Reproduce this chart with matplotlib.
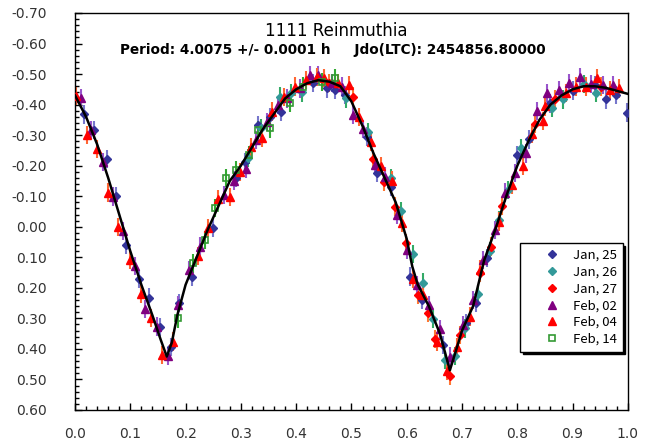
import matplotlib
matplotlib.use("Agg")
import matplotlib.pyplot as plt
from matplotlib.ticker import MultipleLocator, FormatStrFormatter

plt.rcParams['font.family'] = ['DejaVu Sans']
plt.rcParams['axes.unicode_minus'] = False

title = "1111 Reinmuthia"
subtitle = "Period: 4.0075 +/- 0.0001 h     Jdo(LTC): 2454856.80000"

# Fit curve (phase, reduced magnitude)
fit_phase = [0.00, 0.02, 0.04, 0.06, 0.08, 0.10, 0.12, 0.14, 0.155, 0.166, 0.175, 0.185,
             0.20, 0.22, 0.24, 0.26, 0.28, 0.30, 0.32, 0.34, 0.36, 0.38, 0.40, 0.42,
             0.44, 0.46, 0.48, 0.50, 0.52, 0.54, 0.56, 0.58, 0.60, 0.61, 0.62, 0.64,
             0.66, 0.678, 0.69, 0.70, 0.72, 0.74, 0.76, 0.78, 0.80, 0.82, 0.84, 0.86,
             0.88, 0.90, 0.92, 0.94, 0.96, 0.98, 1.00]
fit_mag = [-0.43, -0.36, -0.27, -0.16, -0.04, 0.08, 0.19, 0.29, 0.37, 0.425, 0.38, 0.29,
           0.19, 0.10, 0.01, -0.07, -0.15, -0.20, -0.26, -0.32, -0.37, -0.42, -0.45, -0.47,
           -0.48, -0.475, -0.46, -0.41, -0.33, -0.24, -0.16, -0.08, 0.04, 0.13, 0.19, 0.26,
           0.35, 0.47, 0.40, 0.34, 0.26, 0.11, 0.01, -0.10, -0.20, -0.28, -0.35, -0.40,
           -0.43, -0.45, -0.46, -0.46, -0.455, -0.445, -0.435]

jan25_phase = [0.017, 0.035, 0.057, 0.075, 0.093, 0.116, 0.134, 0.154, 0.174, 0.188, 0.211,
               0.250, 0.292, 0.307, 0.331, 0.353, 0.373, 0.431, 0.455, 0.470, 0.488, 0.529,
               0.547, 0.571, 0.606, 0.627, 0.665, 0.708, 0.725, 0.746, 0.800, 0.822, 0.859,
               0.901, 0.940, 0.960, 0.979, 0.998]
jan25_mag = [-0.368, -0.317, -0.222, -0.100, 0.060, 0.172, 0.232, 0.329, 0.393, 0.249, 0.163,
             0.005, -0.159, -0.213, -0.333, -0.358, -0.377, -0.470, -0.453, -0.448, -0.431, -0.295,
             -0.177, -0.131, 0.163, 0.240, 0.387, 0.316, 0.250, 0.103, -0.235, -0.286, -0.404,
             -0.446, -0.464, -0.417, -0.431, -0.374]

jan26_phase = [0.312, 0.336, 0.371, 0.390, 0.410, 0.491, 0.530, 0.571, 0.590, 0.611, 0.629,
               0.648, 0.669, 0.687, 0.705, 0.728, 0.750, 0.766, 0.784, 0.806, 0.862, 0.883,
               0.920, 0.942]
jan26_mag = [-0.224, -0.322, -0.426, -0.437, -0.440, -0.420, -0.311, -0.159, -0.050, 0.089, 0.183,
             0.303, 0.436, 0.423, 0.333, 0.220, 0.080, -0.022, -0.120, -0.257, -0.388, -0.417,
             -0.467, -0.437]

jan27_phase = [0.460, 0.503, 0.539, 0.559, 0.579, 0.598, 0.621, 0.639, 0.651, 0.678, 0.696,
               0.732, 0.753, 0.773, 0.832, 0.868, 0.952]
jan27_mag = [-0.470, -0.426, -0.221, -0.148, -0.066, 0.054, 0.223, 0.281, 0.368, 0.489, 0.354,
             0.152, 0.065, -0.068, -0.337, -0.417, -0.459]

feb02_phase = [0.011, 0.029, 0.050, 0.069, 0.087, 0.108, 0.127, 0.148, 0.168, 0.186, 0.206,
               0.226, 0.270, 0.288, 0.309, 0.328, 0.347, 0.367, 0.383, 0.407, 0.425, 0.440,
               0.464, 0.482, 0.503, 0.521, 0.542, 0.561, 0.582, 0.601, 0.619, 0.641, 0.660,
               0.678, 0.701, 0.719, 0.738, 0.760, 0.778, 0.796, 0.816, 0.836, 0.854, 0.876,
               0.894, 0.914, 0.934, 0.955, 0.973]
feb02_mag = [-0.420, -0.317, -0.213, -0.099, 0.013, 0.128, 0.270, 0.327, 0.423, 0.256, 0.142,
             0.065, -0.104, -0.151, -0.190, -0.284, -0.344, -0.399, -0.420, -0.453, -0.497, -0.497,
             -0.470, -0.459, -0.366, -0.319, -0.202, -0.164, -0.039, 0.076, 0.190, 0.256, 0.336,
             0.425, 0.322, 0.240, 0.109, 0.011, -0.112, -0.175, -0.240, -0.380, -0.437, -0.448,
             -0.470, -0.490, -0.467, -0.464, -0.464]

feb04_phase = [0.001, 0.021, 0.040, 0.059, 0.078, 0.099, 0.119, 0.137, 0.158, 0.178, 0.222,
               0.241, 0.259, 0.280, 0.298, 0.318, 0.339, 0.357, 0.378, 0.398, 0.417, 0.437,
               0.451, 0.476, 0.495, 0.514, 0.535, 0.553, 0.574, 0.592, 0.612, 0.630, 0.655,
               0.673, 0.690, 0.714, 0.733, 0.767, 0.790, 0.810, 0.826, 0.846, 0.850, 0.888,
               0.907, 0.925, 0.944, 0.967, 0.984]
feb04_mag = [-0.428, -0.300, -0.255, -0.112, 0.000, 0.109, 0.221, 0.298, 0.420, 0.376, 0.096,
             0.005, -0.090, -0.098, -0.180, -0.260, -0.290, -0.377, -0.424, -0.459, -0.480, -0.490,
             -0.486, -0.470, -0.464, -0.360, -0.279, -0.199, -0.151, -0.013, 0.172, 0.223, 0.376,
             0.471, 0.395, 0.294, 0.140, -0.017, -0.137, -0.199, -0.304, -0.347, -0.394, -0.437,
             -0.459, -0.459, -0.486, -0.448, -0.453]

feb14_phase = [0.187, 0.214, 0.235, 0.253, 0.273, 0.292, 0.315, 0.331, 0.353, 0.389, 0.413,
               0.446, 0.470]
feb14_mag = [0.300, 0.120, 0.043, -0.062, -0.159, -0.186, -0.235, -0.317, -0.322, -0.406, -0.459,
             -0.475, -0.486]

series_labels = ["Jan, 25", "Jan, 26", "Jan, 27", "Feb, 02", "Feb, 04", "Feb, 14"]
series_err = [0.03, 0.03, 0.03, 0.03, 0.03, 0.03]

fig = plt.figure(figsize=(6.5, 4.47), dpi=100)
ax = fig.add_axes([0.1154, 0.0828, 0.8506, 0.8882])

styles = [
    (jan25_phase, jan25_mag, dict(marker='D', ms=4.5, color='#333399', mec='#333399', mfc='#333399'), '#7777cc'),
    (jan26_phase, jan26_mag, dict(marker='D', ms=4.5, color='#339999', mec='#339999', mfc='#339999'), '#33aa66'),
    (jan27_phase, jan27_mag, dict(marker='D', ms=4.5, color='#ff0000', mec='#ff0000', mfc='#ff0000'), '#ff7733'),
    (feb02_phase, feb02_mag, dict(marker='^', ms=6, color='#800080', mec='#800080', mfc='#800080'), '#9955cc'),
    (feb04_phase, feb04_mag, dict(marker='^', ms=6, color='#ff0000', mec='#ff0000', mfc='#ff0000'), '#ff6633'),
    (feb14_phase, feb14_mag, dict(marker='s', ms=5, color='#339933', mec='#339933', mfc='none', mew=1.2), '#33aa33'),
]

handles = []
for (ph, mg, st, ecol), lab, err in zip(styles, series_labels, series_err):
    ax.errorbar(ph, mg, yerr=err, fmt='none', ecolor=ecol, elinewidth=1.5, capsize=0, zorder=2)
    h, = ax.plot(ph, mg, ls='none', label=lab, zorder=3, **st)
    handles.append(h)

ax.plot(fit_phase, fit_mag, color='black', lw=1.8, zorder=4)

ax.set_xlim(0.0, 1.0)
ax.set_ylim(0.60, -0.70)
ax.xaxis.set_major_locator(MultipleLocator(0.1))
ax.xaxis.set_minor_locator(MultipleLocator(0.02))
ax.yaxis.set_major_locator(MultipleLocator(0.1))
ax.yaxis.set_minor_locator(MultipleLocator(0.02))
ax.xaxis.set_major_formatter(FormatStrFormatter('%.1f'))
ax.yaxis.set_major_formatter(FormatStrFormatter('%.2f'))
ax.tick_params(axis='both', which='both', direction='in', top=False, right=False,
               labelsize=10, labelcolor='#333333')
ax.tick_params(axis='both', which='major', length=5, width=1)
ax.tick_params(axis='both', which='minor', length=3, width=1)
ax.tick_params(axis='x', which='major', pad=12)
ax.tick_params(axis='y', which='major', pad=20)
for sp in ax.spines.values():
    sp.set_linewidth(1.0)

fig.text(0.517, 0.931, title, ha='center', va='center', fontsize=12)
fig.text(0.512, 0.888, subtitle, ha='center', va='center', fontsize=9.8, fontweight='bold')

leg = ax.legend(handles=handles, loc='upper left', bbox_to_anchor=(0.800, 0.456),
                bbox_transform=fig.transFigure, frameon=True, fancybox=False,
                shadow={'color': 'black', 'alpha': 1.0},
                edgecolor='black', framealpha=1, prop={'family': 'Noto Sans CJK JP', 'size': 9.5},
                handlelength=4.0, handletextpad=-0.45, labelspacing=0.28, borderpad=0.45,
                borderaxespad=0)
leg.get_frame().set_linewidth(1.0)

fig.savefig("out.png", dpi=100)
